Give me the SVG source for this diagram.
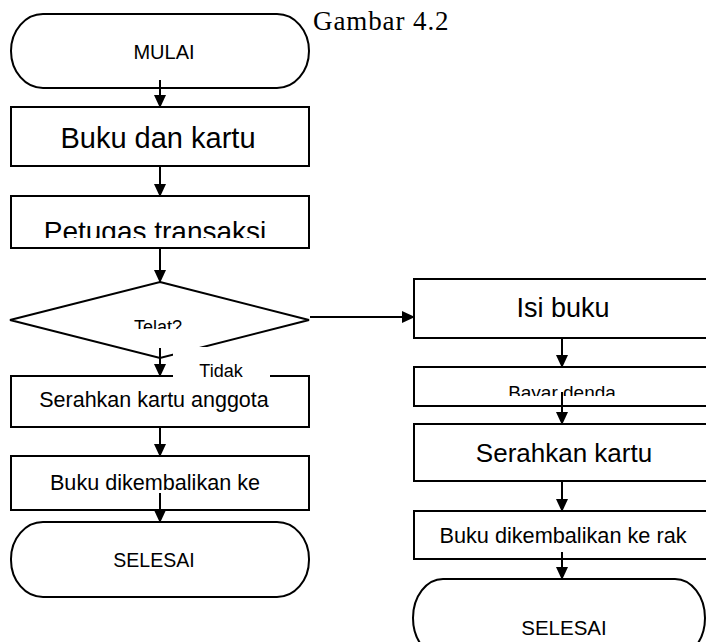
<svg xmlns="http://www.w3.org/2000/svg" width="706" height="642" viewBox="0 0 706 642">
<style>
.shape{fill:#fff;stroke:#000;stroke-width:2}
.t{font-family:"Liberation Sans",Arial,sans-serif;fill:#000;text-anchor:middle}
.conn{stroke:#000;stroke-width:2;fill:none;marker-end:url(#ah)}
</style>
<defs>
<marker id="ah" markerWidth="13" markerHeight="12" refX="12" refY="6" orient="auto" markerUnits="userSpaceOnUse">
<path d="M0,0 L13,6 L0,12 z" fill="#000"/>
</marker>
<clipPath id="c1"><rect x="0" y="190" width="320" height="48"/></clipPath>
<clipPath id="c2"><rect x="0" y="300" width="320" height="29"/></clipPath>
<clipPath id="c3"><rect x="400" y="360" width="306" height="36"/></clipPath>
</defs>
<rect width="706" height="642" fill="#fff"/>

<text x="313" y="30" font-family="Liberation Serif,'Times New Roman',serif" font-size="27" letter-spacing="0.9">Gambar 4.2</text>

<g id="mulai">
<rect class="shape" x="11" y="14" width="298" height="74" rx="32" ry="37"/>
<text class="t" x="164" y="59" font-size="20">MULAI</text>
</g>
<g id="buku-dan-kartu">
<rect class="shape" x="11" y="107" width="298" height="59"/>
<text class="t" x="158" y="148" font-size="29">Buku dan kartu</text>
</g>
<g id="petugas-transaksi">
<rect class="shape" x="11" y="196" width="298" height="52"/>
<text class="t" x="155" y="241" font-size="28" clip-path="url(#c1)">Petugas transaksi</text>
</g>
<g id="telat">
<polygon class="shape" points="160,282 309,320 160,358 10,320"/>
<text class="t" x="158" y="333" font-size="18" clip-path="url(#c2)">Telat?</text>
</g>
<g id="serahkan-kartu-anggota">
<rect class="shape" x="11" y="376" width="298" height="51"/>
<text class="t" x="154" y="407" font-size="21.5">Serahkan kartu anggota</text>
</g>
<g id="buku-dikembalikan-ke">
<rect class="shape" x="11" y="456" width="298" height="54"/>
<text class="t" x="155" y="490" font-size="21.6">Buku dikembalikan ke</text>
</g>
<g id="selesai-1">
<rect class="shape" x="11" y="522" width="298" height="75" rx="32" ry="37"/>
<text class="t" x="154" y="567" font-size="19.5">SELESAI</text>
</g>

<g id="isi-buku">
<rect class="shape" x="414" y="279" width="296" height="59"/>
<text class="t" x="563" y="317" font-size="27">Isi buku</text>
</g>
<g id="bayar-denda">
<rect class="shape" x="414" y="367" width="296" height="39"/>
<text class="t" x="562" y="399" font-size="19" clip-path="url(#c3)">Bayar denda</text>
</g>
<g id="serahkan-kartu">
<rect class="shape" x="414" y="424" width="296" height="57"/>
<text class="t" x="564" y="462" font-size="26">Serahkan kartu</text>
</g>
<g id="buku-dikembalikan-ke-rak">
<rect class="shape" x="414" y="511" width="296" height="48"/>
<text class="t" x="563" y="543" font-size="21.7">Buku dikembalikan ke rak</text>
</g>
<g id="selesai-2">
<rect class="shape" x="413" y="579" width="292" height="78" rx="30" ry="39"/>
<text class="t" x="564" y="635" font-size="20.5">SELESAI</text>
</g>

<g id="connectors">
<line class="conn" x1="160" y1="80" x2="160" y2="107"/>
<line class="conn" x1="160" y1="166" x2="160" y2="196"/>
<line class="conn" x1="160" y1="248" x2="160" y2="282"/>
<line class="conn" x1="160" y1="348" x2="160" y2="376"/>
<line class="conn" x1="160" y1="427" x2="160" y2="456"/>
<line class="conn" x1="160" y1="493" x2="160" y2="522"/>
<line class="conn" x1="310" y1="317" x2="414" y2="317"/>
<line class="conn" x1="562" y1="338" x2="562" y2="367"/>
<line class="conn" x1="562" y1="392" x2="562" y2="424"/>
<line class="conn" x1="562" y1="481" x2="562" y2="511"/>
<line class="conn" x1="562" y1="552" x2="562" y2="579"/>
</g>

<g id="label-tidak">
<rect x="173" y="347" width="97" height="31" fill="#fff"/>
<text class="t" x="221" y="377" font-size="18">Tidak</text>
</g>
</svg>
